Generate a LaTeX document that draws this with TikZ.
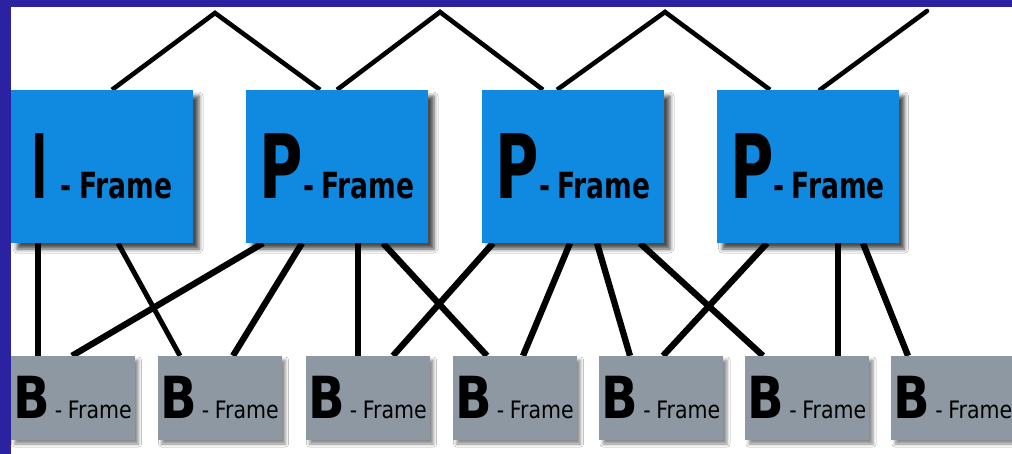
\documentclass[tikz,border=0pt]{standalone}
\usepackage{fontspec}
\newfontfamily\condfont{DejaVu Sans Condensed}
\usetikzlibrary{shadows.blur}
\definecolor{framebg}{RGB}{42,34,160}
\definecolor{pblue}{RGB}{16,138,224}
\definecolor{bgrey}{RGB}{141,152,162}
\pgfdeclarelayer{bg}
\pgfsetlayers{bg,main}
% #1 letter, #2 horizontal scale of letter, #3 gap after letter
\newcommand{\pframelabel}[3]{\scalebox{#2}[1]{\condfont\bfseries\fontsize{89}{89}\selectfont #1}\hspace{#3}\scalebox{0.82}[1]{\condfont\bfseries\fontsize{36}{36}\selectfont -\hspace{9pt}Frame}}
\newcommand{\bframelabel}[1]{\scalebox{0.92}[1]{\condfont\bfseries\fontsize{58}{58}\selectfont #1}\hspace{5pt}\scalebox{0.95}[1]{\condfont\fontsize{24}{24}\selectfont -\hspace{6pt}Frame}}
\tikzset{
  pbox/.style={fill=pblue, minimum width=182pt, minimum height=153pt, inner sep=0pt,
    blur shadow={shadow xshift=6pt, shadow yshift=-6pt, shadow blur radius=4pt, shadow opacity=70}},
  bbox/.style={fill=bgrey, minimum width=124pt, minimum height=84pt, inner sep=0pt,
    blur shadow={shadow xshift=4pt, shadow yshift=-4pt, shadow blur radius=3pt, shadow opacity=45}},
  toplink/.style={line width=4.6pt, line join=miter},
  link/.style={line width=6.3pt},
  thinlink/.style={line width=5pt},
}
\begin{document}
\begin{tikzpicture}[x=1pt,y=-1pt]
\useasboundingbox (0,0) rectangle (1012,454);
\clip (0,0) rectangle (1012,454);

% reference frames
\node[pbox] (I)  at (102,166.5)   {\pframelabel{I}{0.55}{13pt}};
\node[pbox] (P1) at (337,166.5)   {\pframelabel{P}{0.74}{0pt}};
\node[pbox] (P2) at (573,166.5)   {\pframelabel{P}{0.74}{0pt}};
\node[pbox] (P3) at (807.5,166.5) {\pframelabel{P}{0.74}{0pt}};

% bidirectional frames
\node[bbox] (B1) at (72.5,398)  {\bframelabel{B}};
\node[bbox] (B2) at (219.5,398) {\bframelabel{B}};
\node[bbox] (B3) at (367.5,398) {\bframelabel{B}};
\node[bbox] (B4) at (514.5,398) {\bframelabel{B}};
\node[bbox] (B5) at (661,398)   {\bframelabel{B}};
\node[bbox] (B6) at (807,398)   {\bframelabel{B}};
\node[bbox] (B7) at (953,398)   {\bframelabel{B}};

\coordinate (a1) at (215,13);
\coordinate (a2) at (440,12);
\coordinate (a3) at (665,12);
\coordinate (e4) at (927,11);

\begin{pgfonlayer}{bg}
  \fill[white] (0,0) rectangle (1012,454);
  % forward prediction zigzag
  \draw[toplink] ([xshift=10pt]I.north) -- (a1) -- ([xshift=-17pt]P1.north);
  \draw[toplink] (P1.north) -- (a2) -- ([xshift=-30pt]P2.north);
  \draw[toplink] ([xshift=-16pt]P2.north) -- (a3) -- ([xshift=-37.5pt]P3.north);
  \draw[toplink, line cap=round] ([xshift=12.5pt]P3.north) -- (e4);

  % links to B frames
  \draw[link] ([xshift=-64pt]I.south) -- ([xshift=-34.5pt]B1.north);
  \draw[thinlink] ([xshift=16pt]I.south) -- ([xshift=-39.5pt]B2.north);
  \draw[link] ([xshift=-74pt]P1.south) -- ([xshift=-0.5pt]B1.north);
  \draw[link] ([xshift=-35pt]P1.south) -- ([xshift=13.5pt]B2.north);
  \draw[link] ([xshift=21pt]P1.south) -- ([xshift=-9.5pt]B3.north);
  \draw[link] ([xshift=46pt]P1.south) -- ([xshift=-27.5pt]B4.north);
  \draw[link] ([xshift=-80pt]P2.south) -- ([xshift=25.5pt]B3.north);
  \draw[link] ([xshift=-3pt]P2.south) -- ([xshift=8.5pt]B4.north);
  \draw[link] ([xshift=24pt]P2.south) -- ([xshift=-31pt]B5.north);
  \draw[link] ([xshift=67pt]P2.south) -- ([xshift=-44pt]B6.north);
  \draw[link] ([xshift=-40.5pt]P3.south) -- ([xshift=2pt]B5.north);
  \draw[link] ([xshift=30.5pt]P3.south) -- ([xshift=31pt]B6.north);
  \draw[link] ([xshift=55.5pt]P3.south) -- ([xshift=-45pt]B7.north);
\end{pgfonlayer}

% slide border
\fill[framebg] (0,0) rectangle (10.5,454);
\fill[framebg] (0,0) rectangle (1012,7);
\end{tikzpicture}
\end{document}
